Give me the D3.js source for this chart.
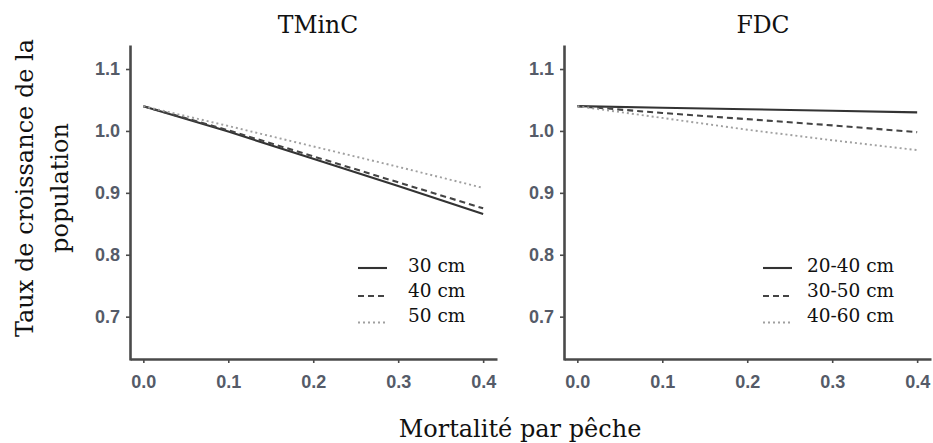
<!DOCTYPE html>
<html>
<head>
<meta charset="utf-8">
<script src="https://cdn.jsdelivr.net/npm/d3@7"></script>
<style>
  html, body { margin: 0; padding: 0; background: #fff; }
  svg { display: block; }
</style>
</head>
<body>
<svg id="chart" width="933" height="443"></svg>
<script>
// ---- data ----
const fishingMortality = [0.0, 0.1, 0.2, 0.3, 0.4];
const xTicks = [0.0, 0.1, 0.2, 0.3, 0.4];
const yTicks = [0.7, 0.8, 0.9, 1.0, 1.1];

const panelTitles = ["TMinC", "FDC"];
const tmincLabels = ["30 cm", "40 cm", "50 cm"];
const fdcLabels = ["20-40 cm", "30-50 cm", "40-60 cm"];

const tminc30 = [1.040, 0.999, 0.955, 0.911, 0.866];
const tminc40 = [1.040, 1.001, 0.959, 0.917, 0.875];
const tminc50 = [1.040, 1.008, 0.975, 0.942, 0.908];

const fdc2040 = [1.040, 1.0375, 1.035, 1.0325, 1.030];
const fdc3050 = [1.040, 1.029, 1.019, 1.009, 0.998];
const fdc4060 = [1.040, 1.021, 1.002, 0.985, 0.969];

const yTitleLines = ["Taux de croissance de la", "population"];
const xTitle = "Mortalité par pêche";

// ---- styles ----
const serif = "'DejaVu Serif', serif";
const sans = "'Liberation Sans', Arial, sans-serif";
const lineStyles = [
  { stroke: "#333", width: 2.1, dash: null },
  { stroke: "#444", width: 2.1, dash: "6,4" },
  { stroke: "#a0a0a0", width: 1.9, dash: "2,3" }
];

const svg = d3.select("#chart");

const y = d3.scaleLinear().domain([0.630, 1.1388]).range([360, 45]);

const panels = [
  { title: panelTitles[0], titleX: 318, left: 130, labels: tmincLabels,
    series: [tminc30, tminc40, tminc50], legendX: 358, textX: 408 },
  { title: panelTitles[1], titleX: 763, left: 564, labels: fdcLabels,
    series: [fdc2040, fdc3050, fdc4060], legendX: 763, textX: 807 }
];

panels.forEach(p => {
  const x = d3.scaleLinear().domain([-0.0157, 0.4163]).range([p.left, p.left + 367]);
  const g = svg.append("g");

  // axes
  const xAxis = g.append("g")
    .attr("transform", "translate(0,359)")
    .call(d3.axisBottom(x).tickValues(xTicks).tickFormat(d3.format(".1f"))
      .tickSizeOuter(0).tickSizeInner(4).tickPadding(12));
  const yAxis = g.append("g")
    .attr("transform", `translate(${p.left},0)`)
    .call(d3.axisLeft(y).tickValues(yTicks).tickFormat(d3.format(".1f"))
      .tickSizeOuter(0).tickSizeInner(4).tickPadding(6));

  [xAxis, yAxis].forEach(a => {
    a.select(".domain").attr("stroke", "#4a4a4a").attr("stroke-width", 2.6);
    a.selectAll(".tick line").attr("stroke", "#4a4a4a").attr("stroke-width", 1.6);
    a.selectAll(".tick text")
      .attr("fill", "#555b68")
      .style("font-family", sans)
      .style("font-weight", "bold")
      .style("font-size", "18px");
  });

  // lines
  const line = d3.line().x((d, i) => x(fishingMortality[i])).y(d => y(d));
  p.series.forEach((s, i) => {
    const st = lineStyles[i];
    g.append("path")
      .datum(s)
      .attr("d", line)
      .attr("fill", "none")
      .attr("stroke", st.stroke)
      .attr("stroke-width", st.width)
      .attr("stroke-dasharray", st.dash);
  });

  // title
  g.append("text")
    .attr("x", p.titleX).attr("y", 33)
    .attr("text-anchor", "middle")
    .style("font-family", serif).style("font-size", "23.5px")
    .attr("fill", "#111")
    .text(p.title);

  // legend
  const legendLineY = [268, 296, 322.5];
  const legendTextY = [272, 297, 322];
  p.labels.forEach((lab, i) => {
    const st = lineStyles[i];
    g.append("line")
      .attr("x1", p.legendX).attr("x2", p.legendX + 29)
      .attr("y1", legendLineY[i]).attr("y2", legendLineY[i])
      .attr("stroke", st.stroke).attr("stroke-width", st.width)
      .attr("stroke-dasharray", st.dash);
    g.append("text")
      .attr("x", p.textX).attr("y", legendTextY[i])
      .style("font-family", serif).style("font-size", "18.5px")
      .attr("fill", "#111")
      .text(lab);
  });
});

// y title
const yt = svg.append("text")
  .attr("transform", "translate(0,188) rotate(-90)")
  .attr("text-anchor", "middle")
  .style("font-family", serif).style("font-size", "24px")
  .attr("fill", "#111");
yt.append("tspan").attr("x", 0).attr("y", 33).text(yTitleLines[0]);
yt.append("tspan").attr("x", 0).attr("y", 68).text(yTitleLines[1]);

// x title
svg.append("text")
  .attr("x", 520).attr("y", 437)
  .attr("text-anchor", "middle")
  .style("font-family", serif).style("font-size", "24px")
  .attr("fill", "#111")
  .text(xTitle);
</script>
</body>
</html>
